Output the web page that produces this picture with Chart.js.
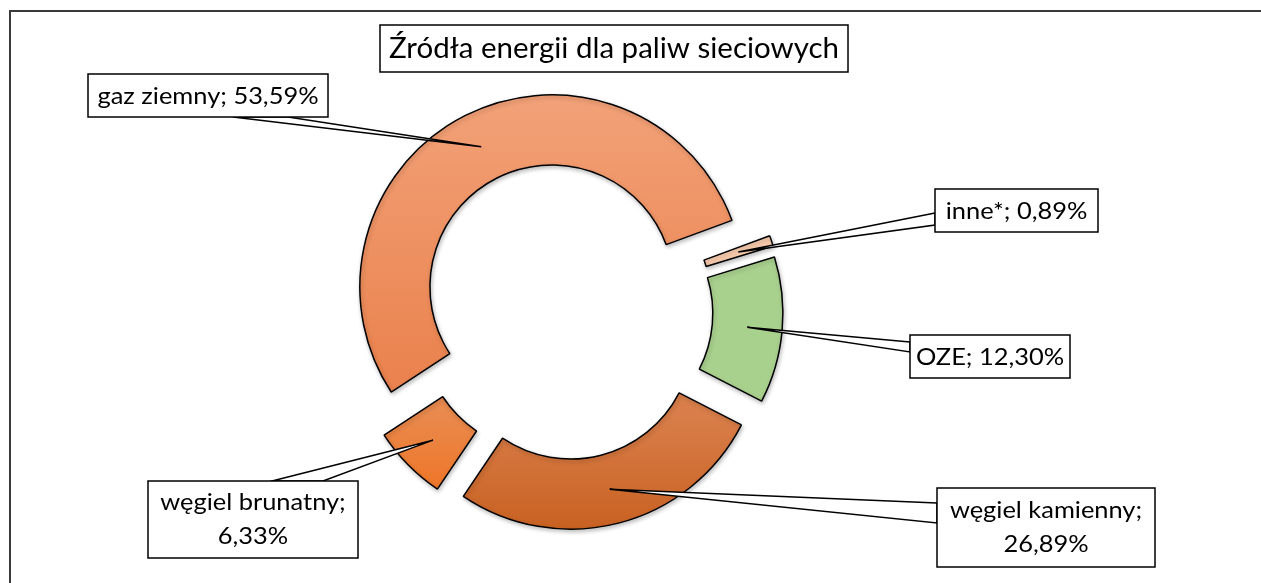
<!DOCTYPE html>
<html lang="pl">
<head>
<meta charset="UTF-8">
<title>Źródła energii dla paliw sieciowych</title>
<script src="https://cdn.jsdelivr.net/npm/chart.js"></script>
<style>
  html, body { margin: 0; padding: 0; background: #fff; }
  .wykres { position: relative; width: 1261px; height: 583px; }
</style>
</head>
<body>
<div class="wykres"><canvas id="zrodla"></canvas></div>
<script>
var tytul = 'Źródła energii dla paliw sieciowych';
var kategorie = ['gaz ziemny', 'inne*', 'OZE', 'węgiel kamienny', 'węgiel brunatny'];
var udzialy = [53.59, 0.89, 12.30, 26.89, 6.33];

// wyglad: gradienty wycinkow [gora, dol, y od, y do]
var kolory = [
    ['#F3A47C', '#EA834F', 94, 395],
    ['#F8CBAD', '#F8CBAD', 0, 1],
    ['#A9D18E', '#A9D18E', 0, 1],
    ['#D97E4A', '#C45A18', 388, 532],
    ['#E98A4E', '#EF7322', 392, 482]
];
// ramki etykiet (x, y, szer, wys) i podstawa klina objasnienia
var ramki = [
    { x: 88, y: 74, w: 240, h: 43, klin: [[233, 117], [288, 117]] },
    { x: 935, y: 189, w: 163, h: 43, klin: [[935, 213], [935, 225]] },
    { x: 910, y: 335, w: 160, h: 43, klin: [[910, 342], [910, 352]] },
    { x: 937, y: 488, w: 218, h: 79, klin: [[937, 503], [937, 523]], dwieLinie: true },
    { x: 148, y: 481, w: 210, h: 77, klin: [[272, 481], [323, 481]], dwieLinie: true }
];
var WYSUNIECIE = 27;   // rozsuniecie wycinkow jak w Excelu
var CZCIONKA = 'Lato, "Noto Sans", sans-serif';

// przesuwamy kazdy wycinek promieniowo (Chart.js offset robi to inaczej dla duzych lukow)
var rysujLuk = Chart.ArcElement.prototype.draw;
Chart.ArcElement.prototype.draw = function (ctx) {
    var kat = (this.startAngle + this.endAngle) / 2;
    ctx.save();
    ctx.translate(Math.cos(kat) * WYSUNIECIE, Math.sin(kat) * WYSUNIECIE);
    ctx.shadowColor = 'rgba(0,0,0,0.25)';
    ctx.shadowBlur = 4;
    ctx.shadowOffsetX = 1;
    ctx.shadowOffsetY = 2;
    rysujLuk.call(this, ctx);
    ctx.restore();
};

function tlo(c) {
    var k = kolory[c.dataIndex];
    var g = c.chart.ctx.createLinearGradient(0, k[2], 0, k[3]);
    g.addColorStop(0, k[0]);
    g.addColorStop(1, k[1]);
    return g;
}

function procent(v) {
    return v.toFixed(2).replace('.', ',') + '%';
}

// Calibri jest wezszy od Lato - sciskamy tekst w poziomie
function pisz(ctx, tekst, x, y, sx) {
    ctx.save();
    ctx.translate(x, y);
    ctx.scale(sx, 1);
    ctx.fillText(tekst, 0, 0);
    ctx.restore();
}

var objasnienia = {
    id: 'objasnienia',
    beforeDraw: function (chart) {
        var ctx = chart.ctx;
        ctx.save();
        ctx.strokeStyle = '#3a3a3a';
        ctx.lineWidth = 2;
        ctx.strokeRect(10, 11, 1400, 800);
        ctx.restore();
    },
    afterDatasetsDraw: function (chart) {
        var ctx = chart.ctx;
        var luki = chart.getDatasetMeta(0).data;
        ctx.save();
        ctx.lineWidth = 1.5;
        ctx.strokeStyle = '#000';
        ctx.textAlign = 'center';
        ctx.textBaseline = 'middle';

        // tytul w ramce
        ctx.fillStyle = '#fff';
        ctx.fillRect(380, 25, 468, 47);
        ctx.strokeRect(380, 25, 468, 47);
        ctx.fillStyle = '#000';
        ctx.font = '28px ' + CZCIONKA;
        var sxT = 450 / ctx.measureText(tytul).width;
        pisz(ctx, tytul, 614, 49, sxT);

        ctx.font = '24px ' + CZCIONKA;
        var sx = 221 / ctx.measureText(kategorie[0] + '; ' + procent(udzialy[0])).width;
        luki.forEach(function (luk, i) {
            var b = ramki[i];
            var p = luk.getCenterPoint();
            var kat = (luk.startAngle + luk.endAngle) / 2;
            var tx = p.x + Math.cos(kat) * WYSUNIECIE;
            var ty = p.y + Math.sin(kat) * WYSUNIECIE;

            ctx.beginPath();
            ctx.moveTo(b.klin[0][0], b.klin[0][1]);
            ctx.lineTo(tx, ty);
            ctx.lineTo(b.klin[1][0], b.klin[1][1]);
            ctx.closePath();
            ctx.fillStyle = '#fff';
            ctx.fill();
            ctx.stroke();

            ctx.fillRect(b.x, b.y, b.w, b.h);
            ctx.strokeRect(b.x, b.y, b.w, b.h);

            ctx.fillStyle = '#000';
            var cx = b.x + b.w / 2, cy = b.y + b.h / 2;
            if (b.dwieLinie) {
                pisz(ctx, kategorie[i] + ';', cx, cy - 17, sx);
                pisz(ctx, procent(udzialy[i]), cx, cy + 17, sx);
            } else {
                pisz(ctx, kategorie[i] + '; ' + procent(udzialy[i]), cx, cy + 1, sx);
            }
        });
        ctx.restore();
    }
};

new Chart(document.getElementById('zrodla'), {
    type: 'doughnut',
    data: {
        labels: kategorie,
        datasets: [{
            data: udzialy,
            backgroundColor: tlo,
            borderColor: '#000',
            borderWidth: 1.5,
            offset: 0
        }]
    },
    options: {
        responsive: true,
        maintainAspectRatio: false,
        animation: false,
        events: [],
        rotation: 236.8,
        radius: 192,
        cutout: '63.5%',
        layout: { padding: { left: 0, right: 133, top: 39, bottom: 0 } },
        plugins: {
            legend: { display: false },
            title: { display: false },
            tooltip: { enabled: false }
        }
    },
    plugins: [objasnienia]
});
</script>
</body>
</html>
